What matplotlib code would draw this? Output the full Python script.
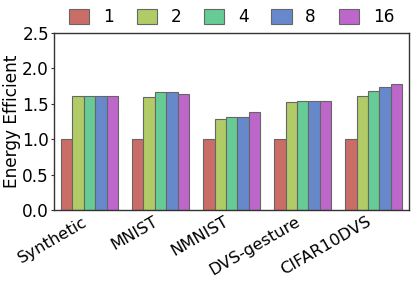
import numpy as np
import matplotlib
matplotlib.use("Agg")
import matplotlib.pyplot as plt
import seaborn as sns

categories = ["Synthetic", "MNIST", "NMNIST", "DVS-gesture", "CIFAR10DVS"]
series_labels = ["1", "2", "4", "8", "16"]
v1 = [1.0, 1.0, 1.0, 1.0, 1.0]
v2 = [1.61, 1.59, 1.29, 1.52, 1.61]
v4 = [1.61, 1.66, 1.31, 1.54, 1.68]
v8 = [1.61, 1.66, 1.31, 1.54, 1.73]
v16 = [1.61, 1.63, 1.38, 1.54, 1.78]
series = [v1, v2, v4, v8, v16]
yticks = [0.0, 0.5, 1.0, 1.5, 2.0, 2.5]

colors = [sns.desaturate(c, 0.75) for c in sns.color_palette("hls", 5)]

plt.rcParams['font.family'] = ['DejaVu Sans']
fig = plt.figure(figsize=(4.15, 2.81), dpi=100)
ax = fig.add_axes([0.13, 0.253, 0.856, 0.63])

x = np.arange(len(categories))
w = 0.8 / 5
for i, (vals, lab) in enumerate(zip(series, series_labels)):
    ax.bar(x - 0.4 + w * (i + 0.5), vals, w, color=colors[i], edgecolor="#666666",
           linewidth=0.8, label=lab)

ax.set_xlim(-0.5, 4.5)
ax.set_ylim(0, 2.5)
ax.set_yticks(yticks)
ax.set_yticklabels([f"{t:.1f}" for t in yticks], fontsize=12.2)
ax.set_xticks(x)
ax.set_xticklabels(categories, rotation=30, ha="right", fontsize=11.8)
ax.tick_params(axis="x", length=0, pad=3)
ax.tick_params(axis="y", length=2.5, pad=1, color="#333333")
ax.set_ylabel("Energy Efficient", fontsize=12.2)
ax.yaxis.set_label_coords(-0.092, 0.5)
for s in ax.spines.values():
    s.set_color("#333333")
    s.set_linewidth(1.0)

ax.legend(loc="lower center", bbox_to_anchor=(0.5, 0.99), ncol=5, frameon=False,
          fontsize=12.2, handlelength=1.2, handleheight=1.0, columnspacing=1.35,
          handletextpad=0.8, borderaxespad=0.1)

fig.savefig("out.png", dpi=100)
